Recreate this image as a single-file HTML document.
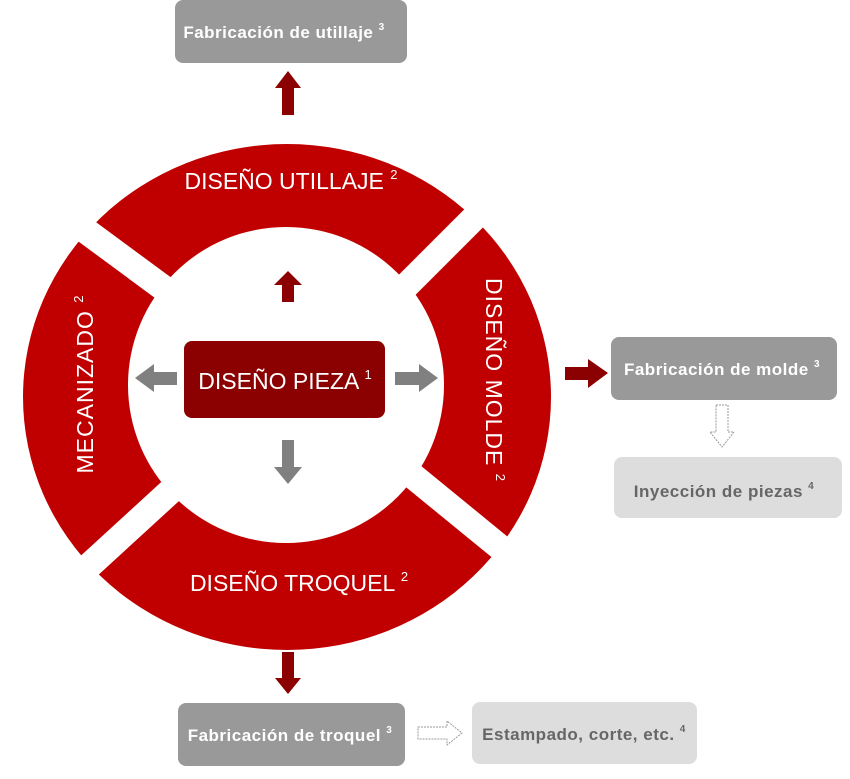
<!DOCTYPE html>
<html><head><meta charset="utf-8"><style>
html,body{margin:0;padding:0;background:#fff;}
svg{display:block;font-family:"Liberation Sans",sans-serif;}
</style></head><body>
<svg width="850" height="779" viewBox="0 0 850 779" xmlns="http://www.w3.org/2000/svg">
<!-- ring -->
<ellipse cx="287" cy="397" rx="264" ry="253" fill="#c00000"/>
<ellipse cx="286" cy="385" rx="158" ry="158" fill="#fff"/>
<g stroke="#fff" stroke-width="26" stroke-linecap="butt">
<line x1="200" y1="315" x2="40" y2="197"/>
<line x1="370" y1="322" x2="520" y2="172"/>
<line x1="210" y1="455" x2="55" y2="597"/>
<line x1="375" y1="445" x2="540" y2="580"/>
</g>
<!-- ring labels -->
<text x="291" y="189" font-size="23" fill="#fff" text-anchor="middle">DISEÑO UTILLAJE <tspan font-size="13" dy="-10">2</tspan></text>
<text x="299" y="591" font-size="23" fill="#fff" text-anchor="middle">DISEÑO TROQUEL <tspan font-size="13" dy="-10">2</tspan></text>
<text transform="translate(93,384) rotate(-90)" font-size="23" letter-spacing="1" fill="#fff" text-anchor="middle">MECANIZADO <tspan font-size="13" dy="-10">2</tspan></text>
<text transform="translate(486,380) rotate(90)" font-size="23" letter-spacing="1" fill="#fff" text-anchor="middle">DISEÑO MOLDE <tspan font-size="13" dy="-10">2</tspan></text>
<!-- center box -->
<rect x="184" y="341" width="201" height="77" rx="8" fill="#8b0000"/>
<text x="285" y="389" font-size="23" fill="#fff" text-anchor="middle">DISEÑO PIEZA <tspan font-size="13" dy="-10">1</tspan></text>
<!-- inner arrows -->
<polygon points="282,302 294,302 294,285 302,285 288,271 274,285 282,285" fill="#8b0000"/>
<polygon points="177,372 177,385 154,385 154,392 135,378 154,364 154,372" fill="#808080"/>
<polygon points="395,372 395,385 419,385 419,392 438,378 419,364 419,372" fill="#808080"/>
<polygon points="282,440 294,440 294,467 302,467 288,484 274,467 282,467" fill="#808080"/>
<!-- top -->
<rect x="175" y="0" width="232" height="63" rx="8" fill="#999"/>
<text x="284" y="38" font-size="17" letter-spacing="0.5" font-weight="bold" fill="#fff" text-anchor="middle">Fabricación de utillaje <tspan font-size="10" dy="-8">3</tspan></text>
<polygon points="282,115 294,115 294,88 301,88 288,71 275,88 282,88" fill="#8b0000"/>
<!-- right -->
<polygon points="565,367 565,380 588,380 588,388 608,373 588,359 588,367" fill="#8b0000"/>
<rect x="611" y="337" width="226" height="63" rx="8" fill="#999"/>
<text x="722" y="375" font-size="17" letter-spacing="0.5" font-weight="bold" fill="#fff" text-anchor="middle">Fabricación de molde <tspan font-size="10" dy="-8">3</tspan></text>
<polygon points="716,405 728,405 728,432 734,432 722,447 710,432 716,432" fill="#fff" stroke="#999" stroke-width="1" stroke-dasharray="2,1"/>
<rect x="614" y="457" width="228" height="61" rx="8" fill="#ddd"/>
<text x="724" y="497" font-size="17" letter-spacing="0.5" font-weight="bold" fill="#666" text-anchor="middle">Inyección de piezas <tspan font-size="10" dy="-8">4</tspan></text>
<!-- bottom -->
<polygon points="282,652 294,652 294,678 301,678 288,694 275,678 282,678" fill="#8b0000"/>
<rect x="178" y="703" width="227" height="63" rx="8" fill="#999"/>
<text x="290" y="741" font-size="17" letter-spacing="0.5" font-weight="bold" fill="#fff" text-anchor="middle">Fabricación de troquel <tspan font-size="10" dy="-8">3</tspan></text>
<polygon points="418,727 447,727 447,721 462,733 447,745 447,739 418,739" fill="#fff" stroke="#999" stroke-width="1" stroke-dasharray="2,1"/>
<rect x="472" y="702" width="225" height="62" rx="8" fill="#ddd"/>
<text x="584" y="740" font-size="17" letter-spacing="0.5" font-weight="bold" fill="#666" text-anchor="middle">Estampado, corte, etc. <tspan font-size="10" dy="-8">4</tspan></text>
</svg>
</body></html>
